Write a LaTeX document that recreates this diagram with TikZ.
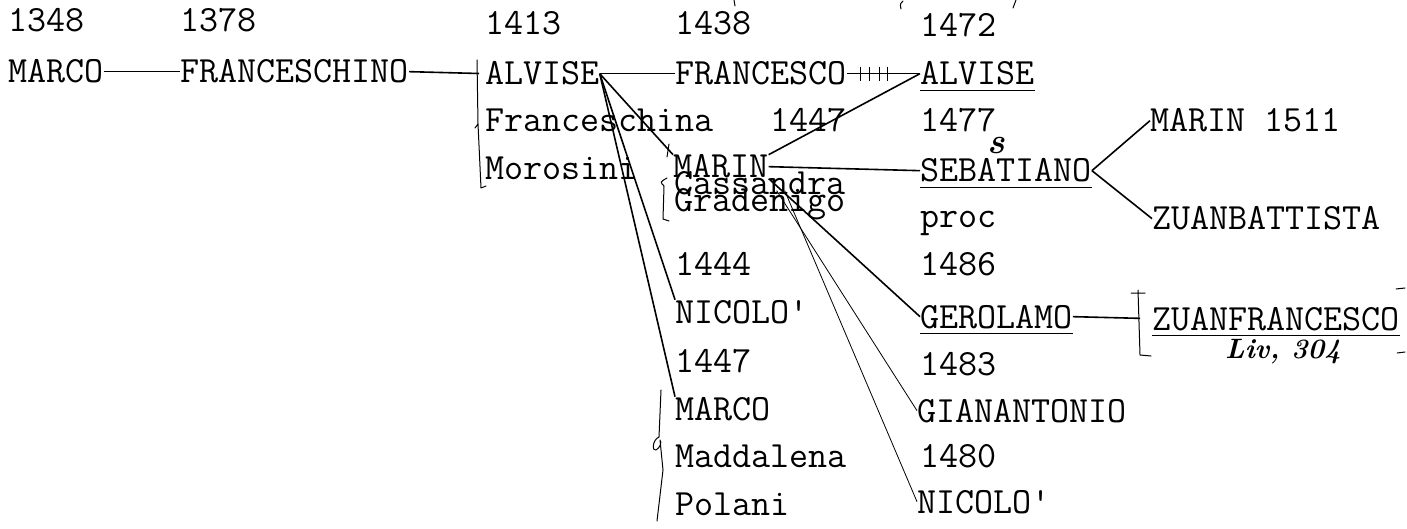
\documentclass[tikz,border=0pt]{standalone}
\usepackage{fontspec}
\newcommand\twfont{\ttfamily\fontsize{37}{38}\selectfont}
\usetikzlibrary{calc}
\tikzset{
  entry/.style={font=\twfont, inner sep=0pt, anchor=base west},
  link/.style={line width=1.6pt},
  thinlink/.style={line width=0.8pt},
  uline/.style={line width=0.9pt},
  hand/.style={line width=1pt, line cap=round, line join=round},
  handtext/.style={font=\itshape\bfseries\fontsize{28}{28}\selectfont, inner sep=0pt},
}
\begin{document}
\begin{tikzpicture}[x=1pt,y=-1pt]
    \useasboundingbox (0,0) rectangle (1407,529);
    % first generations
    \node[entry] (y1348) at (8,32) {1348};
    \node[entry] (marcoA) at (8,83) {MARCO};
    \node[entry] (y1378) at (180,32) {1378};
    \node[entry] (fsch) at (180,83) {FRANCESCHINO};
    \node[entry] (y1413) at (485,35) {1413};
    \node[entry] (alvA) at (485,85) {ALVISE};
    \node[entry] (fschina) at (485,132) {Franceschina};
    \node[entry] (moro) at (485,180) {Morosini};
    % sons of Alvise
    \node[entry] (y1438) at (675,35) {1438};
    \node[entry] (fran) at (675,85) {FRANCESCO};
    \node[entry] (y1447a) at (770,132) {1447};
    \node[entry] (marin) at (673,178) {MARIN};
    \node[entry] (cass) at (674,195) {Cassandra};
    \node[entry] (grad) at (674,212) {Gradenigo};
    \node[entry] (y1444) at (675,275) {1444};
    \node[entry] (nicA) at (675,323) {NICOLO\textquotesingle};
    \node[entry] (y1447b) at (675,372) {1447};
    \node[entry] (marcoB) at (675,420) {MARCO};
    \node[entry] (madd) at (675,467) {Maddalena};
    \node[entry] (pola) at (675,515) {Polani};
    % next generation
    \node[entry] (y1472) at (920,37) {1472};
    \node[entry] (alvB) at (920,85) {ALVISE};
    \node[entry] (y1477) at (920,132) {1477};
    \node[entry] (seb) at (920,182) {SEBATIANO};
    \node[entry] (proc) at (920,228) {proc};
    \node[entry] (y1486) at (920,275) {1486};
    \node[entry] (ger) at (920,328) {GEROLAMO};
    \node[entry] (y1483) at (920,375) {1483};
    \node[entry] (gian) at (917,422) {GIANANTONIO};
    \node[entry] (y1480) at (920,467) {1480};
    \node[entry] (nicB) at (917,513) {NICOLO\textquotesingle};
    % last column
    \node[entry] (marinB) at (1150,132) {MARIN 1511};
    \node[entry] (zuanb) at (1152,230) {ZUANBATTISTA};
    \node[entry] (zuanf) at (1152,330) {ZUANFRANCESCO};
    % handwritten notes
    \node[handtext, font=\itshape\bfseries\fontsize{36}{36}\selectfont] (sgl) at (996,146) {s};
    \node[handtext] (liv) at (1283,352) {Liv, 304};

    % connectors
    \draw[link] (marcoA.east) -- (fsch.west);
    \draw[link, shorten >=6pt] (fsch.east) -- (alvA.west);
    \draw[link] (alvA.east) -- (fran.west);
    \draw[link] (fran.east) -- (alvB.west);
    \foreach \p in {0.19,0.31,0.44,0.56}
    {
      \draw[thinlink] ($(fran.east)!\p!(alvB.west)$) +(0,-7) -- +(0,7);
    }
    \draw[link] (alvA.east) -- (marin.north west);
    \draw[link] (alvA.east) -- (nicA.north west);
    \draw[link] (alvA.east) -- (marcoB.north west);
    \draw[link] (marin.north east) -- (alvB.west);
    \draw[link] (marin.east) -- (seb.west);
    \draw[link] (marin.south east) -- (ger.west);
    \draw[thinlink] ([xshift=8pt,yshift=-12pt]marin.south east) -- (gian.west);
    \draw[thinlink] ([xshift=16pt,yshift=-12pt]marin.south east) -- (nicB.west);
    \draw[link] (seb.east) -- (marinB.west);
    \draw[link] (seb.east) -- (zuanb.west);
    \draw[link, shorten >=12pt] (ger.east) -- (zuanf.west);

    % underlines
    \foreach \n in {alvB,seb,ger,zuanf}
    {
      \draw[uline] ([yshift=-5pt]\n.south west) -- ([yshift=-5pt]\n.south east);
    }

    % brackets
    \draw[hand] (477,60) -- (478,124) -- (475,128) (478,124) -- (481,188) -- (486,186);
    \draw[hand] (669,144) -- (667,157);
    \draw[hand] (667,178) .. controls (660,182) .. (664,186) -- (663,219) -- (669,221);
    \draw[hand] (661,390) -- (659,437) .. controls (652,440) and (652,452) .. (656,450)
      .. controls (660,448) and (662,442) .. (660,440) -- (663,470) -- (657,521);
    \draw[hand] (1131,293) -- (1145,293) (1138,290) -- (1140,355) -- (1151,356);
    % marks at the edge
    \draw[hand] (1396,289) -- (1405,288);
    \draw[hand] (1397,353) -- (1405,352);
    \draw[hand] (734,0) -- (735,6);
    \draw[hand] (903,1) .. controls (900,4) .. (901,9);
    \draw[hand] (1016,0) -- (1013,8);
\end{tikzpicture}
\end{document}
